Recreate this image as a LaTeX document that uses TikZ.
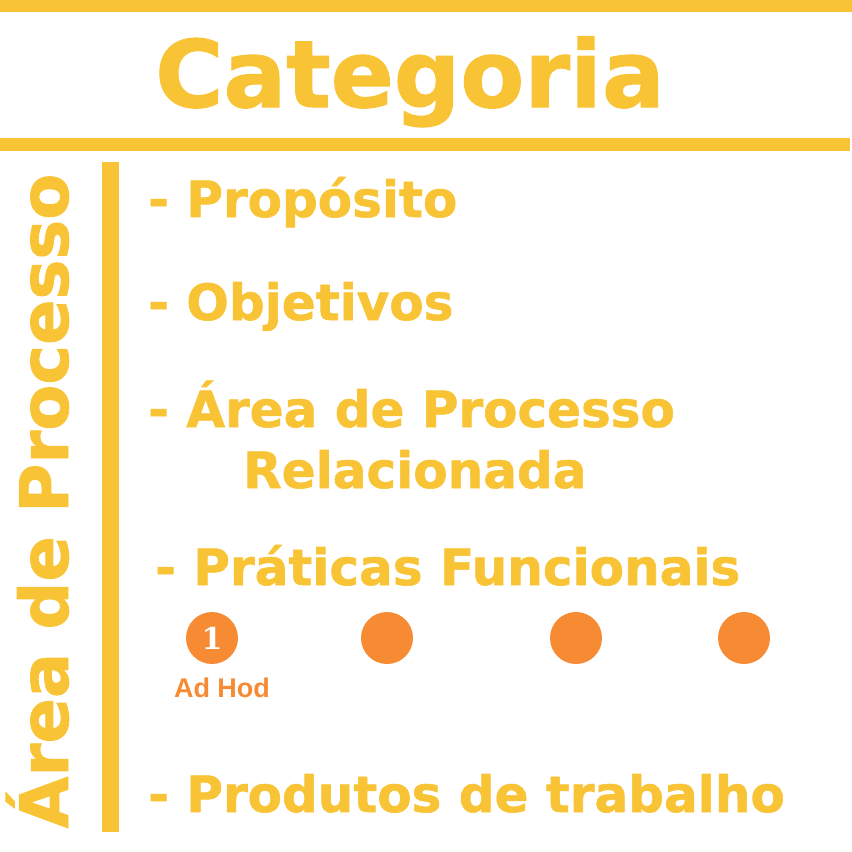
\documentclass[tikz,border=0pt]{standalone}
\usepackage{fontspec}
\setmainfont{DejaVu Sans}[BoldFeatures={FakeBold=1.2}]
\newfontfamily\numfont{DejaVu Serif}
\newfontfamily\labelfont{Liberation Sans}
\usepackage{xcolor}
\usetikzlibrary{positioning}
\definecolor{catyellow}{HTML}{F8C335}
\definecolor{dotorange}{HTML}{F68B33}

\begin{document}
\begin{tikzpicture}[x=1pt, y=-1pt,
    bar/.style={fill=catyellow},
    item/.style={anchor=base west, inner sep=0pt, text=catyellow, font=\fontsize{50}{60}\selectfont\bfseries},
    dot/.style={circle, fill=dotorange, minimum size=52pt, inner sep=0pt},
    level/.style={anchor=base, inner sep=0pt, text=dotorange, font=\labelfont\fontsize{27}{30}\selectfont\bfseries}]
    \useasboundingbox (0,0) rectangle (852,852);

    % Title and bars
    \fill [bar] (0,0) rectangle (852,12);
    \node [anchor=base, inner sep=0pt, text=catyellow, font=\fontsize{93}{110}\selectfont\bfseries] (title) at (410,107) {Categoria};
    \fill [bar] (0,138) rectangle (850,151);
    \fill [bar] (102,162) rectangle (119,832);

    % Side label
    \node [anchor=base, rotate=90, inner sep=0pt, text=catyellow, font=\fontsize{67}{80}\selectfont\bfseries] (side) at (68,501) {Área de Processo};

    % Items
    \node [item] (proposito) at (148,217) {- Propósito};
    \node [item] (objetivos) at (148,320) {- Objetivos};
    \node [item] (area) at (148,427) {- Área de Processo};
    \node [item] (relacionada) at (243,488) {Relacionada};
    \node [item] (praticas) at (155,585) {- Práticas Funcionais};
    \node [item] (produtos) at (148,812) {- Produtos de trabalho};

    % Levels
    \node [dot] (dot1) at (212,638) {};
    \node [text=white, inner sep=0pt, font=\numfont\fontsize{30}{32}\selectfont\bfseries] (one) at (dot1) {1};
    \node [dot] (dot2) at (387,638) {};
    \node [dot] (dot3) at (576,638) {};
    \node [dot] (dot4) at (744,638) {};
    \node [level] (adhod) at (222,697) {Ad Hod};
\end{tikzpicture}
\end{document}
